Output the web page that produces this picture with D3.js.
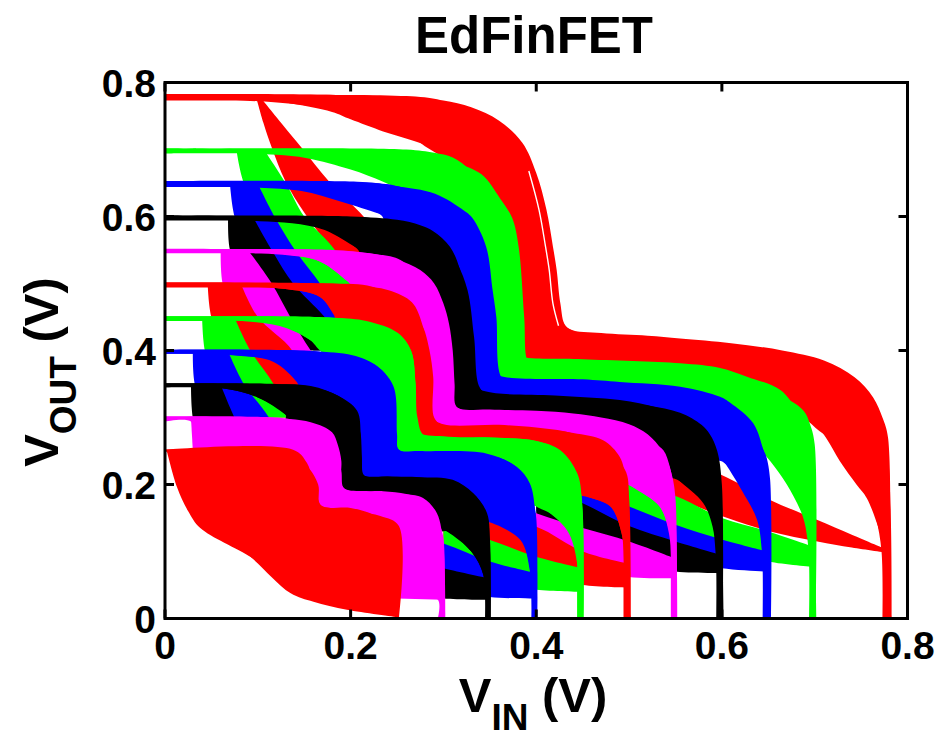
<!DOCTYPE html>
<html>
<head>
<meta charset="utf-8">
<script src="https://cdn.jsdelivr.net/npm/d3@7"></script>
<style>
  html, body { margin: 0; padding: 0; background: #ffffff; }
  svg { display: block; }
  text { font-family: "Liberation Sans", Arial, Helvetica, sans-serif; font-weight: bold; fill: #000; }
</style>
</head>
<body>
<svg id="chart" width="949" height="744"></svg>
<script>
// Supply voltages of the Monte Carlo butterfly families (drawn from highest to lowest)
const supplyV = [0.78, 0.70, 0.65, 0.60, 0.55, 0.50, 0.45, 0.40, 0.35, 0.30, 0.25];
const supplyColor = ["#ff0000", "#00ff00", "#0000ff", "#000000", "#ff00ff",
                     "#ff0000", "#00ff00", "#0000ff", "#000000", "#ff00ff", "#ff0000"];

// Axis ticks
const xTicks = [0, 0.2, 0.4, 0.6, 0.8];
const yTicks = [0, 0.2, 0.4, 0.6, 0.8];

// Envelope of the VTC spread for each supply: outer (latest switching) and inner (earliest) edge, [Vin, Vout]
const outer078 = [[0,0.781],[0.27,0.779],[0.30,0.773],[0.33,0.763],[0.36,0.743],[0.385,0.71],[0.40,0.665],[0.411,0.61],[0.418,0.555],[0.422,0.52],[0.426,0.47],[0.432,0.436],[0.45,0.426],[0.50,0.419],[0.555,0.414],[0.60,0.408],[0.641,0.40],[0.675,0.392],[0.70,0.385],[0.727,0.366],[0.752,0.326],[0.77,0.286],[0.778,0.25],[0.782,0.15],[0.783,0]];
const inner078 = [[0,0.773],[0.10,0.772],[0.15,0.766],[0.181,0.758],[0.235,0.742],[0.26,0.725],[0.28,0.705],[0.30,0.688],[0.33,0.655],[0.35,0.615],[0.358,0.56],[0.362,0.45],[0.365,0.39],[0.38,0.379],[0.45,0.377],[0.555,0.374],[0.60,0.366],[0.63,0.352],[0.66,0.332],[0.68,0.31],[0.695,0.30],[0.712,0.27],[0.727,0.235],[0.745,0.2],[0.756,0.18],[0.77,0.13],[0.776,0.10],[0.777,0]];

const outer070 = [[0,0.701],[0.26,0.700],[0.29,0.695],[0.31,0.688],[0.329,0.669],[0.347,0.64],[0.358,0.61],[0.365,0.57],[0.368,0.52],[0.37,0.45],[0.372,0.40],[0.383,0.391],[0.45,0.387],[0.555,0.381],[0.598,0.374],[0.627,0.361],[0.663,0.341],[0.681,0.311],[0.695,0.281],[0.698,0.207],[0.70,0.132],[0.702,0]];
const inner070 = [[0,0.694],[0.08,0.694],[0.12,0.692],[0.153,0.687],[0.2,0.67],[0.235,0.652],[0.26,0.636],[0.275,0.628],[0.296,0.613],[0.312,0.59],[0.326,0.55],[0.332,0.5],[0.336,0.42],[0.338,0.37],[0.36,0.354],[0.45,0.35],[0.555,0.34],[0.595,0.325],[0.615,0.31],[0.628,0.29],[0.64,0.258],[0.652,0.25],[0.677,0.207],[0.692,0.167],[0.696,0.12],[0.697,0.08],[0.697,0]];

const outer065 = [[0,0.651],[0.22,0.65],[0.25,0.645],[0.275,0.635],[0.296,0.62],[0.318,0.59],[0.332,0.55],[0.338,0.5],[0.342,0.42],[0.345,0.375],[0.361,0.362],[0.45,0.357],[0.49,0.353],[0.555,0.346],[0.598,0.331],[0.609,0.322],[0.634,0.291],[0.645,0.251],[0.648,0.241],[0.652,0.207],[0.653,0]];
const inner065 = [[0,0.644],[0.07,0.644],[0.102,0.643],[0.147,0.638],[0.19,0.622],[0.231,0.604],[0.25,0.595],[0.27,0.585],[0.285,0.574],[0.302,0.552],[0.313,0.52],[0.32,0.47],[0.323,0.40],[0.327,0.345],[0.345,0.332],[0.42,0.327],[0.49,0.32],[0.53,0.309],[0.558,0.295],[0.578,0.265],[0.59,0.238],[0.602,0.233],[0.625,0.19],[0.641,0.147],[0.646,0.102],[0.647,0]];

const outer060 = [[0,0.601],[0.2,0.6],[0.25,0.595],[0.275,0.587],[0.289,0.578],[0.307,0.555],[0.318,0.52],[0.325,0.47],[0.328,0.40],[0.332,0.35],[0.345,0.339],[0.42,0.333],[0.49,0.326],[0.53,0.315],[0.562,0.301],[0.584,0.266],[0.593,0.247],[0.598,0.217],[0.60,0.15],[0.602,0]];
const inner060 = [[0,0.594],[0.067,0.594],[0.102,0.593],[0.137,0.59],[0.172,0.58],[0.207,0.553],[0.225,0.54],[0.25,0.53],[0.27,0.515],[0.285,0.495],[0.295,0.47],[0.30,0.44],[0.304,0.40],[0.306,0.35],[0.309,0.31],[0.33,0.303],[0.418,0.295],[0.49,0.275],[0.52,0.258],[0.535,0.24],[0.543,0.212],[0.552,0.207],[0.584,0.172],[0.595,0.137],[0.597,0.102],[0.597,0]];

const outer055 = [[0,0.551],[0.18,0.55],[0.22,0.545],[0.25,0.536],[0.275,0.52],[0.29,0.50],[0.30,0.47],[0.306,0.44],[0.31,0.40],[0.312,0.35],[0.314,0.316],[0.33,0.309],[0.418,0.301],[0.49,0.281],[0.51,0.273],[0.526,0.262],[0.537,0.251],[0.544,0.226],[0.548,0.192],[0.551,0.12],[0.552,0]];
const inner055 = [[0,0.545],[0.059,0.545],[0.092,0.545],[0.127,0.543],[0.167,0.533],[0.197,0.503],[0.21,0.49],[0.235,0.478],[0.25,0.468],[0.265,0.445],[0.273,0.43],[0.279,0.40],[0.283,0.36],[0.284,0.30],[0.30,0.281],[0.35,0.279],[0.40,0.276],[0.44,0.271],[0.468,0.26],[0.484,0.237],[0.49,0.205],[0.503,0.197],[0.533,0.167],[0.544,0.127],[0.548,0.092],[0.548,0]];

const outer050 = [[0,0.501],[0.17,0.5],[0.218,0.497],[0.24,0.485],[0.253,0.475],[0.27,0.45],[0.278,0.435],[0.285,0.40],[0.289,0.36],[0.29,0.30],[0.30,0.288],[0.35,0.285],[0.40,0.282],[0.44,0.277],[0.472,0.266],[0.49,0.241],[0.497,0.207],[0.50,0.181],[0.502,0]];
const inner050 = [[0,0.494],[0.048,0.494],[0.092,0.494],[0.127,0.492],[0.167,0.48],[0.182,0.455],[0.19,0.445],[0.2,0.44],[0.23,0.429],[0.246,0.418],[0.259,0.40],[0.264,0.35],[0.266,0.30],[0.275,0.266],[0.35,0.264],[0.40,0.259],[0.42,0.247],[0.437,0.215],[0.443,0.185],[0.453,0.182],[0.48,0.167],[0.492,0.127],[0.495,0.092],[0.496,0]];

const outer045 = [[0,0.451],[0.16,0.45],[0.2,0.446],[0.23,0.435],[0.251,0.424],[0.265,0.40],[0.27,0.35],[0.272,0.30],[0.28,0.272],[0.35,0.27],[0.40,0.265],[0.426,0.251],[0.444,0.217],[0.449,0.181],[0.451,0]];
const inner045 = [[0,0.444],[0.04,0.444],[0.083,0.444],[0.12,0.44],[0.156,0.416],[0.167,0.40],[0.18,0.39],[0.2,0.385],[0.22,0.373],[0.234,0.355],[0.24,0.33],[0.242,0.28],[0.246,0.246],[0.275,0.244],[0.345,0.24],[0.373,0.222],[0.387,0.2],[0.393,0.17],[0.404,0.167],[0.433,0.132],[0.444,0.083],[0.445,0]];

const outer040 = [[0,0.401],[0.15,0.4],[0.18,0.396],[0.205,0.39],[0.226,0.379],[0.24,0.36],[0.246,0.33],[0.248,0.28],[0.252,0.252],[0.275,0.25],[0.347,0.246],[0.379,0.226],[0.393,0.202],[0.399,0.157],[0.401,0]];
const inner040 = [[0,0.395],[0.03,0.395],[0.077,0.393],[0.12,0.383],[0.145,0.351],[0.15,0.345],[0.16,0.34],[0.182,0.326],[0.197,0.305],[0.204,0.28],[0.206,0.24],[0.209,0.207],[0.24,0.206],[0.275,0.205],[0.305,0.201],[0.326,0.183],[0.34,0.155],[0.345,0.145],[0.353,0.142],[0.383,0.117],[0.393,0.072],[0.395,0]];

const outer035 = [[0,0.351],[0.12,0.35],[0.157,0.346],[0.187,0.332],[0.203,0.31],[0.21,0.28],[0.212,0.24],[0.215,0.213],[0.24,0.212],[0.275,0.211],[0.31,0.207],[0.332,0.187],[0.347,0.157],[0.35,0.107],[0.351,0]];
const inner035 = [[0,0.345],[0.03,0.345],[0.065,0.343],[0.10,0.33],[0.13,0.304],[0.14,0.29],[0.162,0.272],[0.173,0.255],[0.18,0.24],[0.185,0.22],[0.187,0.19],[0.2,0.184],[0.235,0.184],[0.26,0.18],[0.273,0.174],[0.287,0.155],[0.294,0.13],[0.304,0.13],[0.33,0.10],[0.343,0.065],[0.345,0]];

const outer030 = [[0,0.301],[0.12,0.3],[0.138,0.296],[0.167,0.277],[0.178,0.26],[0.185,0.245],[0.19,0.22],[0.192,0.196],[0.20,0.19],[0.235,0.19],[0.26,0.186],[0.278,0.18],[0.293,0.157],[0.30,0.107],[0.302,0]];
const inner030 = [[0,0.294],[0.028,0.294],[0.032,0.26],[0.04,0.248],[0.138,0.246],[0.148,0.23],[0.158,0.181],[0.165,0.16],[0.2,0.159],[0.222,0.148],[0.24,0.12],[0.245,0.083],[0.247,0.04],[0.26,0.032],[0.29,0.03],[0.296,0.028],[0.297,0]];

const outer025 = [[0,0.252],[0.138,0.252],[0.153,0.232],[0.164,0.181],[0.17,0.167],[0.2,0.165],[0.228,0.152],[0.246,0.122],[0.251,0.083],[0.252,0]];
const inner025 = [[0,0.25],[0.009,0.241],[0.013,0.226],[0.03,0.167],[0.067,0.117],[0.092,0.092],[0.135,0.038],[0.16,0.025],[0.196,0.013],[0.25,0.002]];

// Leakage-limited low-output tails: [Vin, upper Vout, lower Vout], from the tip at Vin = VDD leftwards
const tail078 = [[0.779,0.102,0.098],[0.74,0.125,0.106],[0.703,0.147,0.115],[0.652,0.177,0.13],[0.606,0.21,0.15],[0.55,0.245,0.18],[0.50,0.28,0.21]];
const tail070 = [[0.699,0.107,0.077],[0.65,0.13,0.085],[0.60,0.15,0.105],[0.55,0.183,0.13],[0.50,0.20,0.155],[0.45,0.23,0.18]];
const tail065 = [[0.649,0.10,0.07],[0.60,0.118,0.075],[0.55,0.14,0.09],[0.50,0.167,0.11],[0.45,0.19,0.135],[0.40,0.22,0.16]];
const tail060 = [[0.599,0.095,0.068],[0.55,0.115,0.07],[0.50,0.138,0.085],[0.45,0.172,0.105],[0.40,0.20,0.13]];
const tail055 = [[0.549,0.09,0.06],[0.50,0.115,0.062],[0.45,0.135,0.075],[0.40,0.157,0.095],[0.35,0.185,0.12]];
const tail050 = [[0.499,0.082,0.046],[0.45,0.10,0.05],[0.40,0.137,0.065],[0.35,0.15,0.085],[0.30,0.175,0.105]];
const tail045 = [[0.449,0.075,0.04],[0.40,0.092,0.043],[0.35,0.117,0.055],[0.30,0.135,0.075]];
const tail040 = [[0.399,0.068,0.03],[0.35,0.085,0.032],[0.30,0.112,0.045],[0.25,0.13,0.06]];
const tail035 = [[0.349,0.06,0.028],[0.30,0.075,0.03],[0.25,0.095,0.04]];
const tail030 = [[0.299,0.05,0.028],[0.25,0.065,0.03]];
const tail025 = [];

// A lone late-switching sample separated from the 0.78 V spread
const outlier078 = [[0.392,0.668],[0.403,0.61],[0.41,0.555],[0.414,0.52],[0.418,0.47],[0.424,0.437]];

const families = [
  { outer: outer078, inner: inner078, tail: tail078 },
  { outer: outer070, inner: inner070, tail: tail070 },
  { outer: outer065, inner: inner065, tail: tail065 },
  { outer: outer060, inner: inner060, tail: tail060 },
  { outer: outer055, inner: inner055, tail: tail055 },
  { outer: outer050, inner: inner050, tail: tail050 },
  { outer: outer045, inner: inner045, tail: tail045 },
  { outer: outer040, inner: inner040, tail: tail040 },
  { outer: outer035, inner: inner035, tail: tail035 },
  { outer: outer030, inner: inner030, tail: tail030 },
  { outer: outer025, inner: inner025, tail: tail025 }
].map((f, i) => Object.assign({ vdd: supplyV[i], color: supplyColor[i] }, f));

const svg = d3.select("#chart");
const x = d3.scaleLinear().domain([0, 0.8]).range([165, 907.5]);
const y = d3.scaleLinear().domain([0, 0.8]).range([618.5, 82.5]);

const smooth = d3.line().x(d => x(d[0])).y(d => y(d[1])).curve(d3.curveCatmullRom.alpha(0.5));
const swap = pts => pts.map(p => [p[1], p[0]]);

// Closed region between two edges, each edge drawn as a smooth curve
function regionPath(upper, lower) {
  const a = smooth(upper);
  const b = smooth(lower.slice().reverse());
  return a + "L" + b.slice(1) + "Z";
}

svg.append("defs").append("clipPath").attr("id", "plotClip")
  .append("rect").attr("x", x(0)).attr("y", y(0.8))
  .attr("width", x(0.8) - x(0)).attr("height", y(0) - y(0.8));

const plot = svg.append("g").attr("clip-path", "url(#plotClip)");

families.forEach(f => {
  const g = plot.append("g").attr("fill", f.color).attr("stroke", "none");
  // VTC spread and its mirror (the second inverter of the cross-coupled pair)
  g.append("path").attr("d", regionPath(f.outer, f.inner));
  g.append("path").attr("d", regionPath(swap(f.outer), swap(f.inner)));
  if (f.tail.length) {
    const top = f.tail.map(d => [d[0], d[1]]);
    const bot = f.tail.map(d => [d[0], d[2]]);
    g.append("path").attr("d", regionPath(top, bot));
    g.append("path").attr("d", regionPath(swap(top), swap(bot)));
  }
});

plot.append("path").attr("d", smooth(outlier078))
  .attr("fill", "none").attr("stroke", "#ffffff").attr("stroke-width", 1.4);

// Frame and inward ticks on all four sides
const axes = svg.append("g").attr("stroke", "#000").attr("stroke-width", 3).attr("fill", "none");
axes.append("rect").attr("x", x(0)).attr("y", y(0.8))
  .attr("width", x(0.8) - x(0)).attr("height", y(0) - y(0.8));
const tickLen = 9;
xTicks.forEach(v => {
  axes.append("line").attr("x1", x(v)).attr("x2", x(v)).attr("y1", y(0)).attr("y2", y(0) - tickLen);
  axes.append("line").attr("x1", x(v)).attr("x2", x(v)).attr("y1", y(0.8)).attr("y2", y(0.8) + tickLen);
});
yTicks.forEach(v => {
  axes.append("line").attr("x1", x(0)).attr("x2", x(0) + tickLen).attr("y1", y(v)).attr("y2", y(v));
  axes.append("line").attr("x1", x(0.8)).attr("x2", x(0.8) - tickLen).attr("y1", y(v)).attr("y2", y(v));
});

// Tick labels
const fmt = v => v === 0 ? "0" : d3.format(".1f")(v);
svg.append("g").selectAll("text").data(xTicks).join("text")
  .attr("x", d => x(d)).attr("y", 659).attr("text-anchor", "middle")
  .attr("font-size", 39).text(fmt);
svg.append("g").selectAll("text").data(yTicks).join("text")
  .attr("x", 156).attr("y", d => y(d) + 14).attr("text-anchor", "end")
  .attr("font-size", 39).text(fmt);

// Title
svg.append("text").attr("x", 534).attr("y", 53).attr("text-anchor", "middle")
  .attr("font-size", 51).text("EdFinFET");

// Axis titles with subscripts
const xl = svg.append("text").attr("x", 533).attr("y", 712).attr("text-anchor", "middle").attr("font-size", 49);
xl.append("tspan").text("V");
xl.append("tspan").attr("font-size", 37).attr("dy", 18).text("IN");
xl.append("tspan").attr("dy", -18).text(" (V)");

const yl = svg.append("text").attr("transform", "translate(58,372) rotate(-90)")
  .attr("text-anchor", "middle").attr("font-size", 49);
yl.append("tspan").text("V");
yl.append("tspan").attr("font-size", 37).attr("dy", 18).text("OUT");
yl.append("tspan").attr("dy", -18).text(" (V)");
</script>
</body>
</html>
